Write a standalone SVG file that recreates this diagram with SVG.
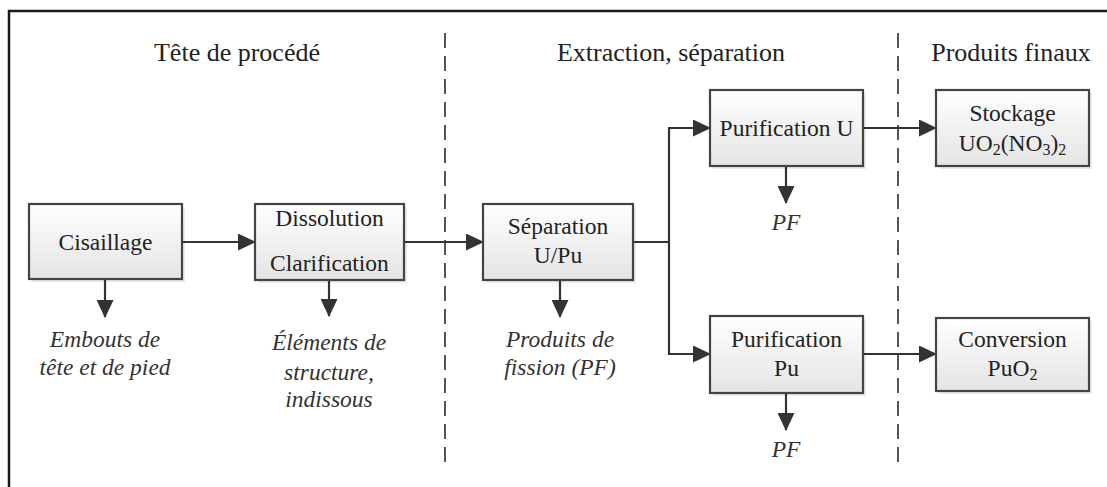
<svg xmlns="http://www.w3.org/2000/svg" width="1107" height="487" viewBox="0 0 1107 487">
<defs>
  <linearGradient id="boxfill" x1="0" y1="0" x2="0" y2="1">
    <stop offset="0" stop-color="#ffffff"/>
    <stop offset="1" stop-color="#e4e4e4"/>
  </linearGradient>
  <marker id="arr" viewBox="0 0 18 17" refX="17" refY="8.5" markerWidth="18" markerHeight="17" markerUnits="userSpaceOnUse" orient="auto">
    <path d="M0,0 L18,8.5 L0,17 Z" fill="#333333"/>
  </marker>
</defs>
<style>
  .box { fill: url(#boxfill); stroke: #444444; stroke-width: 2.2; }
  .shadow { fill: #000000; opacity: 0.08; }
  .t { font-family: "Liberation Serif", "Times New Roman", serif; font-size: 23.5px; fill: #222222; text-anchor: middle; }
  .h { font-family: "Liberation Serif", "Times New Roman", serif; font-size: 26px; fill: #222222; text-anchor: middle; }
  .i { font-family: "Liberation Serif", "Times New Roman", serif; font-size: 23.5px; font-style: italic; fill: #333333; text-anchor: middle; }
  .c { fill: none; stroke: #333333; stroke-width: 2.2; }
  .ca { fill: none; stroke: #333333; stroke-width: 2.2; marker-end: url(#arr); }
  .dash { fill: none; stroke: #555555; stroke-width: 2; stroke-dasharray: 15 8; }
</style>
<rect x="0" y="0" width="1107" height="487" fill="#ffffff"/>
<path d="M9,487 L9,11 L1107,11" fill="none" stroke="#1a1a1a" stroke-width="2.5"/>

<g id="separators">
  <line class="dash" x1="445" y1="33" x2="445" y2="470"/>
  <line class="dash" x1="898" y1="33" x2="898" y2="470"/>
</g>

<g id="headers">
  <text class="h" x="237" y="61">Tête de procédé</text>
  <text class="h" x="671" y="61">Extraction, séparation</text>
  <text class="h" x="1011" y="61">Produits finaux</text>
</g>

<g id="connectors">
  <line class="ca" x1="182" y1="242" x2="255" y2="242"/>
  <line class="ca" x1="404" y1="242" x2="483" y2="242"/>
  <path class="c" d="M633,242 L669,242 M669,128 L669,354"/>
  <line class="ca" x1="668" y1="128" x2="710" y2="128"/>
  <line class="ca" x1="668" y1="354" x2="710" y2="354"/>
  <line class="ca" x1="863" y1="128" x2="936" y2="128"/>
  <line class="ca" x1="863" y1="354" x2="936" y2="354"/>
  <line class="ca" x1="105" y1="279" x2="105" y2="317"/>
  <line class="ca" x1="329" y1="280" x2="329" y2="316"/>
  <line class="ca" x1="560" y1="280" x2="560" y2="317"/>
  <line class="ca" x1="786" y1="166" x2="786" y2="203"/>
  <line class="ca" x1="786" y1="393" x2="786" y2="430"/>
</g>

<g id="cisaillage">
  <rect class="shadow" x="32" y="207" width="153" height="75"/>
  <rect class="box" x="29" y="204" width="153" height="75"/>
  <text class="t" x="105.5" y="250">Cisaillage</text>
</g>
<g id="dissolution">
  <rect class="shadow" x="258" y="207" width="149" height="76"/>
  <rect class="box" x="255" y="204" width="149" height="76"/>
  <text class="t" x="329.5" y="226">Dissolution</text>
  <text class="t" x="329.5" y="271">Clarification</text>
</g>
<g id="separation">
  <rect class="shadow" x="486" y="207" width="150" height="76"/>
  <rect class="box" x="483" y="204" width="150" height="76"/>
  <text class="t" x="558" y="234">Séparation</text>
  <text class="t" x="558" y="263">U/Pu</text>
</g>
<g id="purif-u">
  <rect class="shadow" x="713" y="93" width="153" height="76"/>
  <rect class="box" x="710" y="90" width="153" height="76"/>
  <text class="t" x="786.5" y="136">Purification U</text>
</g>
<g id="purif-pu">
  <rect class="shadow" x="713" y="319" width="153" height="77"/>
  <rect class="box" x="710" y="316" width="153" height="77"/>
  <text class="t" x="786.5" y="347">Purification</text>
  <text class="t" x="786.5" y="376">Pu</text>
</g>
<g id="stockage">
  <rect class="shadow" x="939" y="93" width="153" height="76"/>
  <rect class="box" x="936" y="90" width="153" height="76"/>
  <text class="t" x="1012.5" y="121">Stockage</text>
  <text class="t" x="1012.5" y="151">UO<tspan font-size="16" dy="4">2</tspan><tspan dy="-4">(NO</tspan><tspan font-size="16" dy="4">3</tspan><tspan dy="-4">)</tspan><tspan font-size="16" dy="4">2</tspan></text>
</g>
<g id="conversion">
  <rect class="shadow" x="939" y="321" width="153" height="73"/>
  <rect class="box" x="936" y="318" width="153" height="73"/>
  <text class="t" x="1012.5" y="347">Conversion</text>
  <text class="t" x="1012.5" y="376">PuO<tspan font-size="16" dy="4">2</tspan></text>
</g>

<g id="outputs">
  <text class="i" x="105" y="347">Embouts de</text>
  <text class="i" x="105" y="375">tête et de pied</text>
  <text class="i" x="329" y="350">Éléments de</text>
  <text class="i" x="329" y="380">structure,</text>
  <text class="i" x="329" y="407">indissous</text>
  <text class="i" x="560" y="347">Produits de</text>
  <text class="i" x="560" y="375">fission (PF)</text>
  <text class="i" x="786" y="230">PF</text>
  <text class="i" x="786" y="457">PF</text>
</g>
</svg>
